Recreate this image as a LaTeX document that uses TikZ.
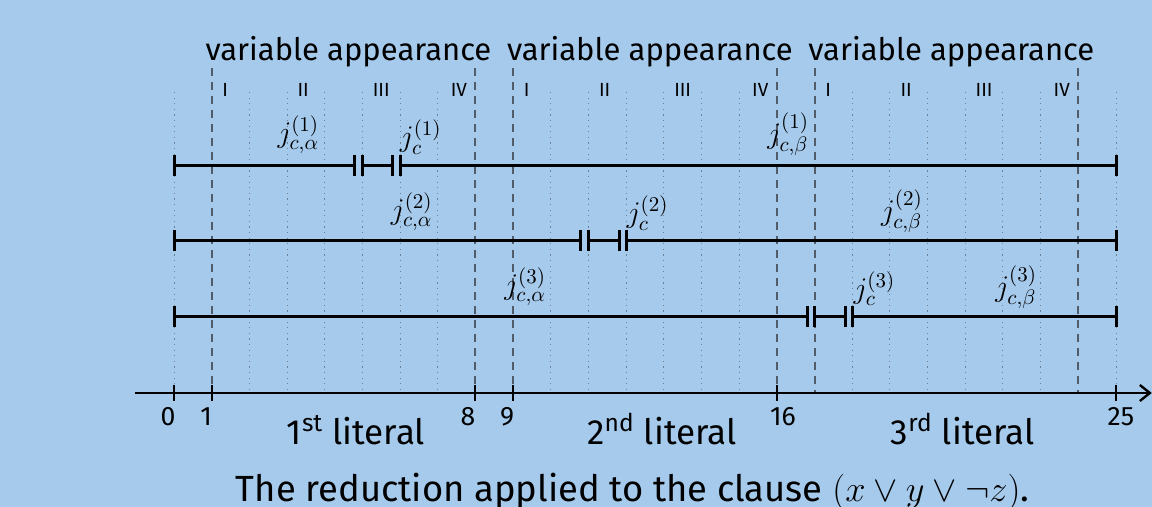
\RequirePackage{fix-cm}
\documentclass[tikz,border=0pt]{standalone}
\usepackage[no-math]{fontspec}
\setmainfont{Fira Sans}
\usetikzlibrary{arrows.meta}
\definecolor{bg}{HTML}{A6CAEC}
\definecolor{dashc}{HTML}{505C69}
\definecolor{dotc}{HTML}{6F8295}
\begin{document}
\begin{tikzpicture}[x=0.5pt,y=-0.5pt,
  dotline/.style={dotc, line width=0.5pt, dash pattern=on 0.6pt off 2.2pt},
  dashline/.style={dashc, line width=1pt, dash pattern=on 4pt off 3pt},
  barline/.style={black, line width=1.5pt},
  axisline/.style={black, line width=1.2pt},
  mlbl/.style={inner sep=0pt, font=\fontsize{15}{18}\selectfont},
  varlbl/.style={inner sep=0pt, anchor=base, font=\fontsize{15.5}{18}\selectfont},
  roman/.style={inner sep=0pt, anchor=base, font=\fontsize{9.5}{11}\selectfont},
  num/.style={inner sep=0pt, anchor=base, font=\fontsize{13.3}{15}\selectfont},
  lit/.style={inner sep=0pt, anchor=base, font=\fontsize{17.5}{20}\selectfont},
  capt/.style={inner sep=0pt, anchor=base, font=\fontsize{18.2}{21}\selectfont}]
\fill[bg] (0,0) rectangle (1152,507);
\useasboundingbox (0,0) rectangle (1152,507);
\begin{scope}[shift={(174,0)}, x=18.84pt]
  % grid
  \foreach \i in {0,2,3,4,5,6,7,10,11,12,13,14,15,18,19,20,21,22,23,25}
    \draw[dotline] (\i,92) -- (\i,393);
  \foreach \i in {1,8,9,16,17,24}
    \draw[dashline] (\i,68) -- (\i,393);
  % headers
  \foreach \s in {1,9,17} {
    \node[varlbl] (va\s) at (\s+3.63,60.5) {variable appearance};
    \node[roman] (rI\s) at (\s+0.36,97) {I};
    \node[roman] (rII\s) at (\s+2.43,97) {II};
    \node[roman] (rIII\s) at (\s+4.5,97) {III};
    \node[roman] (rIV\s) at (\s+6.56,97) {IV};
  }
  % bars
  \foreach \y/\a in {166/5, 241/11, 317/17} {
    \draw[barline] (0,\y) -- (\a-0.2,\y);
    \draw[barline] (\a,\y) -- (\a+0.81,\y);
    \draw[barline] (\a+1,\y) -- (25,\y);
    \foreach \t in {0,\a-0.2,\a,\a+0.81,\a+1,25}
      \draw[barline] (\t,\y-10.5) -- (\t,\y+10.5);
  }
  % labels
  \node[mlbl] (a1) at (3.30,134.5) {$j_{c,\alpha}^{(1)}$};
  \node[mlbl] (c1) at (6.55,137) {$j_{c}^{(1)}$};
  \node[mlbl] (b1) at (16.30,134) {$j_{c,\beta}^{(1)}$};
  \node[mlbl] (a2) at (6.31,211.5) {$j_{c,\alpha}^{(2)}$};
  \node[mlbl] (c2) at (12.57,213) {$j_{c}^{(2)}$};
  \node[mlbl] (b2) at (19.32,211) {$j_{c,\beta}^{(2)}$};
  \node[mlbl] (a3) at (9.32,286.7) {$j_{c,\alpha}^{(3)}$};
  \node[mlbl] (c3) at (18.59,288.5) {$j_{c}^{(3)}$};
  \node[mlbl] (b3) at (22.35,286.7) {$j_{c,\beta}^{(3)}$};
  % axis
  \draw[axisline, -{Straight Barb[length=5pt,width=8pt]}] (-1.035,393) -- (25.95,393);
  \foreach \t in {0,1,8,9,16,25}
    \draw[black, line width=1pt] (\t,385) -- (\t,401);
  \node[num] (n0) at (-0.16,425.5) {0};
  \node[num] (n1) at (0.85,425.5) {1};
  \node[num] (n8) at (7.80,425.5) {8};
  \node[num] (n9) at (8.84,425.5) {9};
  \node[num] (n16) at (16.16,425.5) {16};
  \node[num] (n25) at (25.13,425.5) {25};
  \node[lit] (l1) at (4.83,444.5) {1\textsuperscript{st} literal};
  \node[lit] (l2) at (12.95,444.5) {2\textsuperscript{nd} literal};
  \node[lit] (l3) at (20.93,444.5) {3\textsuperscript{rd} literal};
  \node[capt] (cap) at (12.17,501.5) {The reduction applied to the clause $(x \vee y \vee \neg z)$.};
\end{scope}
\end{tikzpicture}
\end{document}
